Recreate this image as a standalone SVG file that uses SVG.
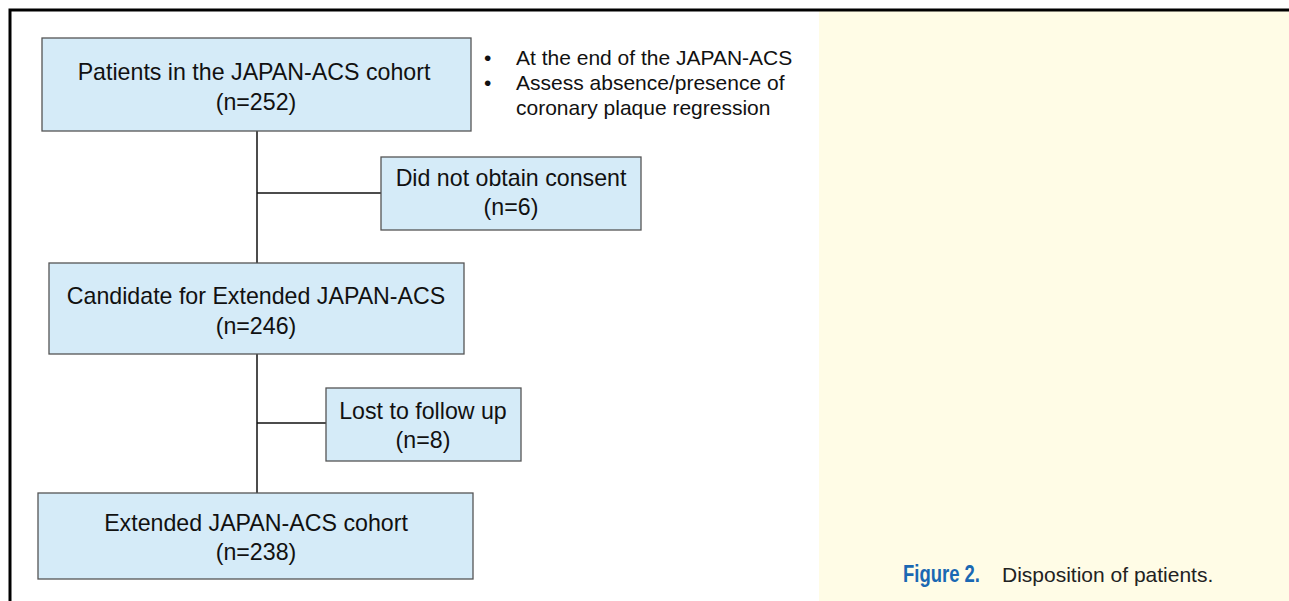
<svg xmlns="http://www.w3.org/2000/svg" width="1289" height="601" viewBox="0 0 1289 601">
<style>
.box{fill:#D5EBF8;stroke:#555;stroke-width:1.3}
.t{font-family:"Liberation Sans",Arial,sans-serif;font-size:23.2px;fill:#111;text-anchor:middle}
.b{font-family:"Liberation Sans",Arial,sans-serif;font-size:21px;fill:#111}
.c{stroke:#111;stroke-width:1.5;fill:none}
</style>
<rect x="0" y="0" width="1289" height="601" fill="#fff"/>
<rect x="819" y="11" width="470" height="590" fill="#FFFCE6"/>
<path d="M10 601 V10 H1289" stroke="#000" stroke-width="3" fill="none"/>
<g id="connectors">
<line class="c" x1="257" y1="131" x2="257" y2="263"/>
<line class="c" x1="257" y1="193" x2="381" y2="193"/>
<line class="c" x1="257" y1="354" x2="257" y2="493"/>
<line class="c" x1="257" y1="423" x2="326" y2="423"/>
</g>
<g id="n1">
<rect class="box" x="42" y="38" width="429" height="93"/>
<text class="t" x="254" y="80">Patients in the JAPAN-ACS cohort</text>
<text class="t" x="256" y="110">(n=252)</text>
</g>
<g id="note">
<text class="b" x="484" y="65">•</text>
<text class="b" x="516" y="65">At the end of the JAPAN-ACS</text>
<text class="b" x="484" y="90">•</text>
<text class="b" x="516" y="90">Assess absence/presence of</text>
<text class="b" x="516" y="115">coronary plaque regression</text>
</g>
<g id="n2">
<rect class="box" x="381" y="157" width="260" height="73"/>
<text class="t" x="511" y="186">Did not obtain consent</text>
<text class="t" x="511" y="215">(n=6)</text>
</g>
<g id="n3">
<rect class="box" x="49" y="263" width="415" height="91"/>
<text class="t" x="256" y="304">Candidate for Extended JAPAN-ACS</text>
<text class="t" x="256" y="334">(n=246)</text>
</g>
<g id="n4">
<rect class="box" x="326" y="388" width="195" height="73"/>
<text class="t" x="423" y="419">Lost to follow up</text>
<text class="t" x="423" y="448">(n=8)</text>
</g>
<g id="n5">
<rect class="box" x="38" y="493" width="435" height="86"/>
<text class="t" x="256" y="531">Extended JAPAN-ACS cohort</text>
<text class="t" x="256" y="560">(n=238)</text>
</g>
<g id="caption">
<text x="903" y="582" font-family="'Liberation Sans',Arial,sans-serif" font-weight="bold" font-size="23" fill="#1A68B3" textLength="77" lengthAdjust="spacingAndGlyphs">Figure 2.</text>
<text x="1002" y="582" font-family="'Liberation Sans',Arial,sans-serif" font-size="21" fill="#222">Disposition of patients.</text>
</g>
</svg>
